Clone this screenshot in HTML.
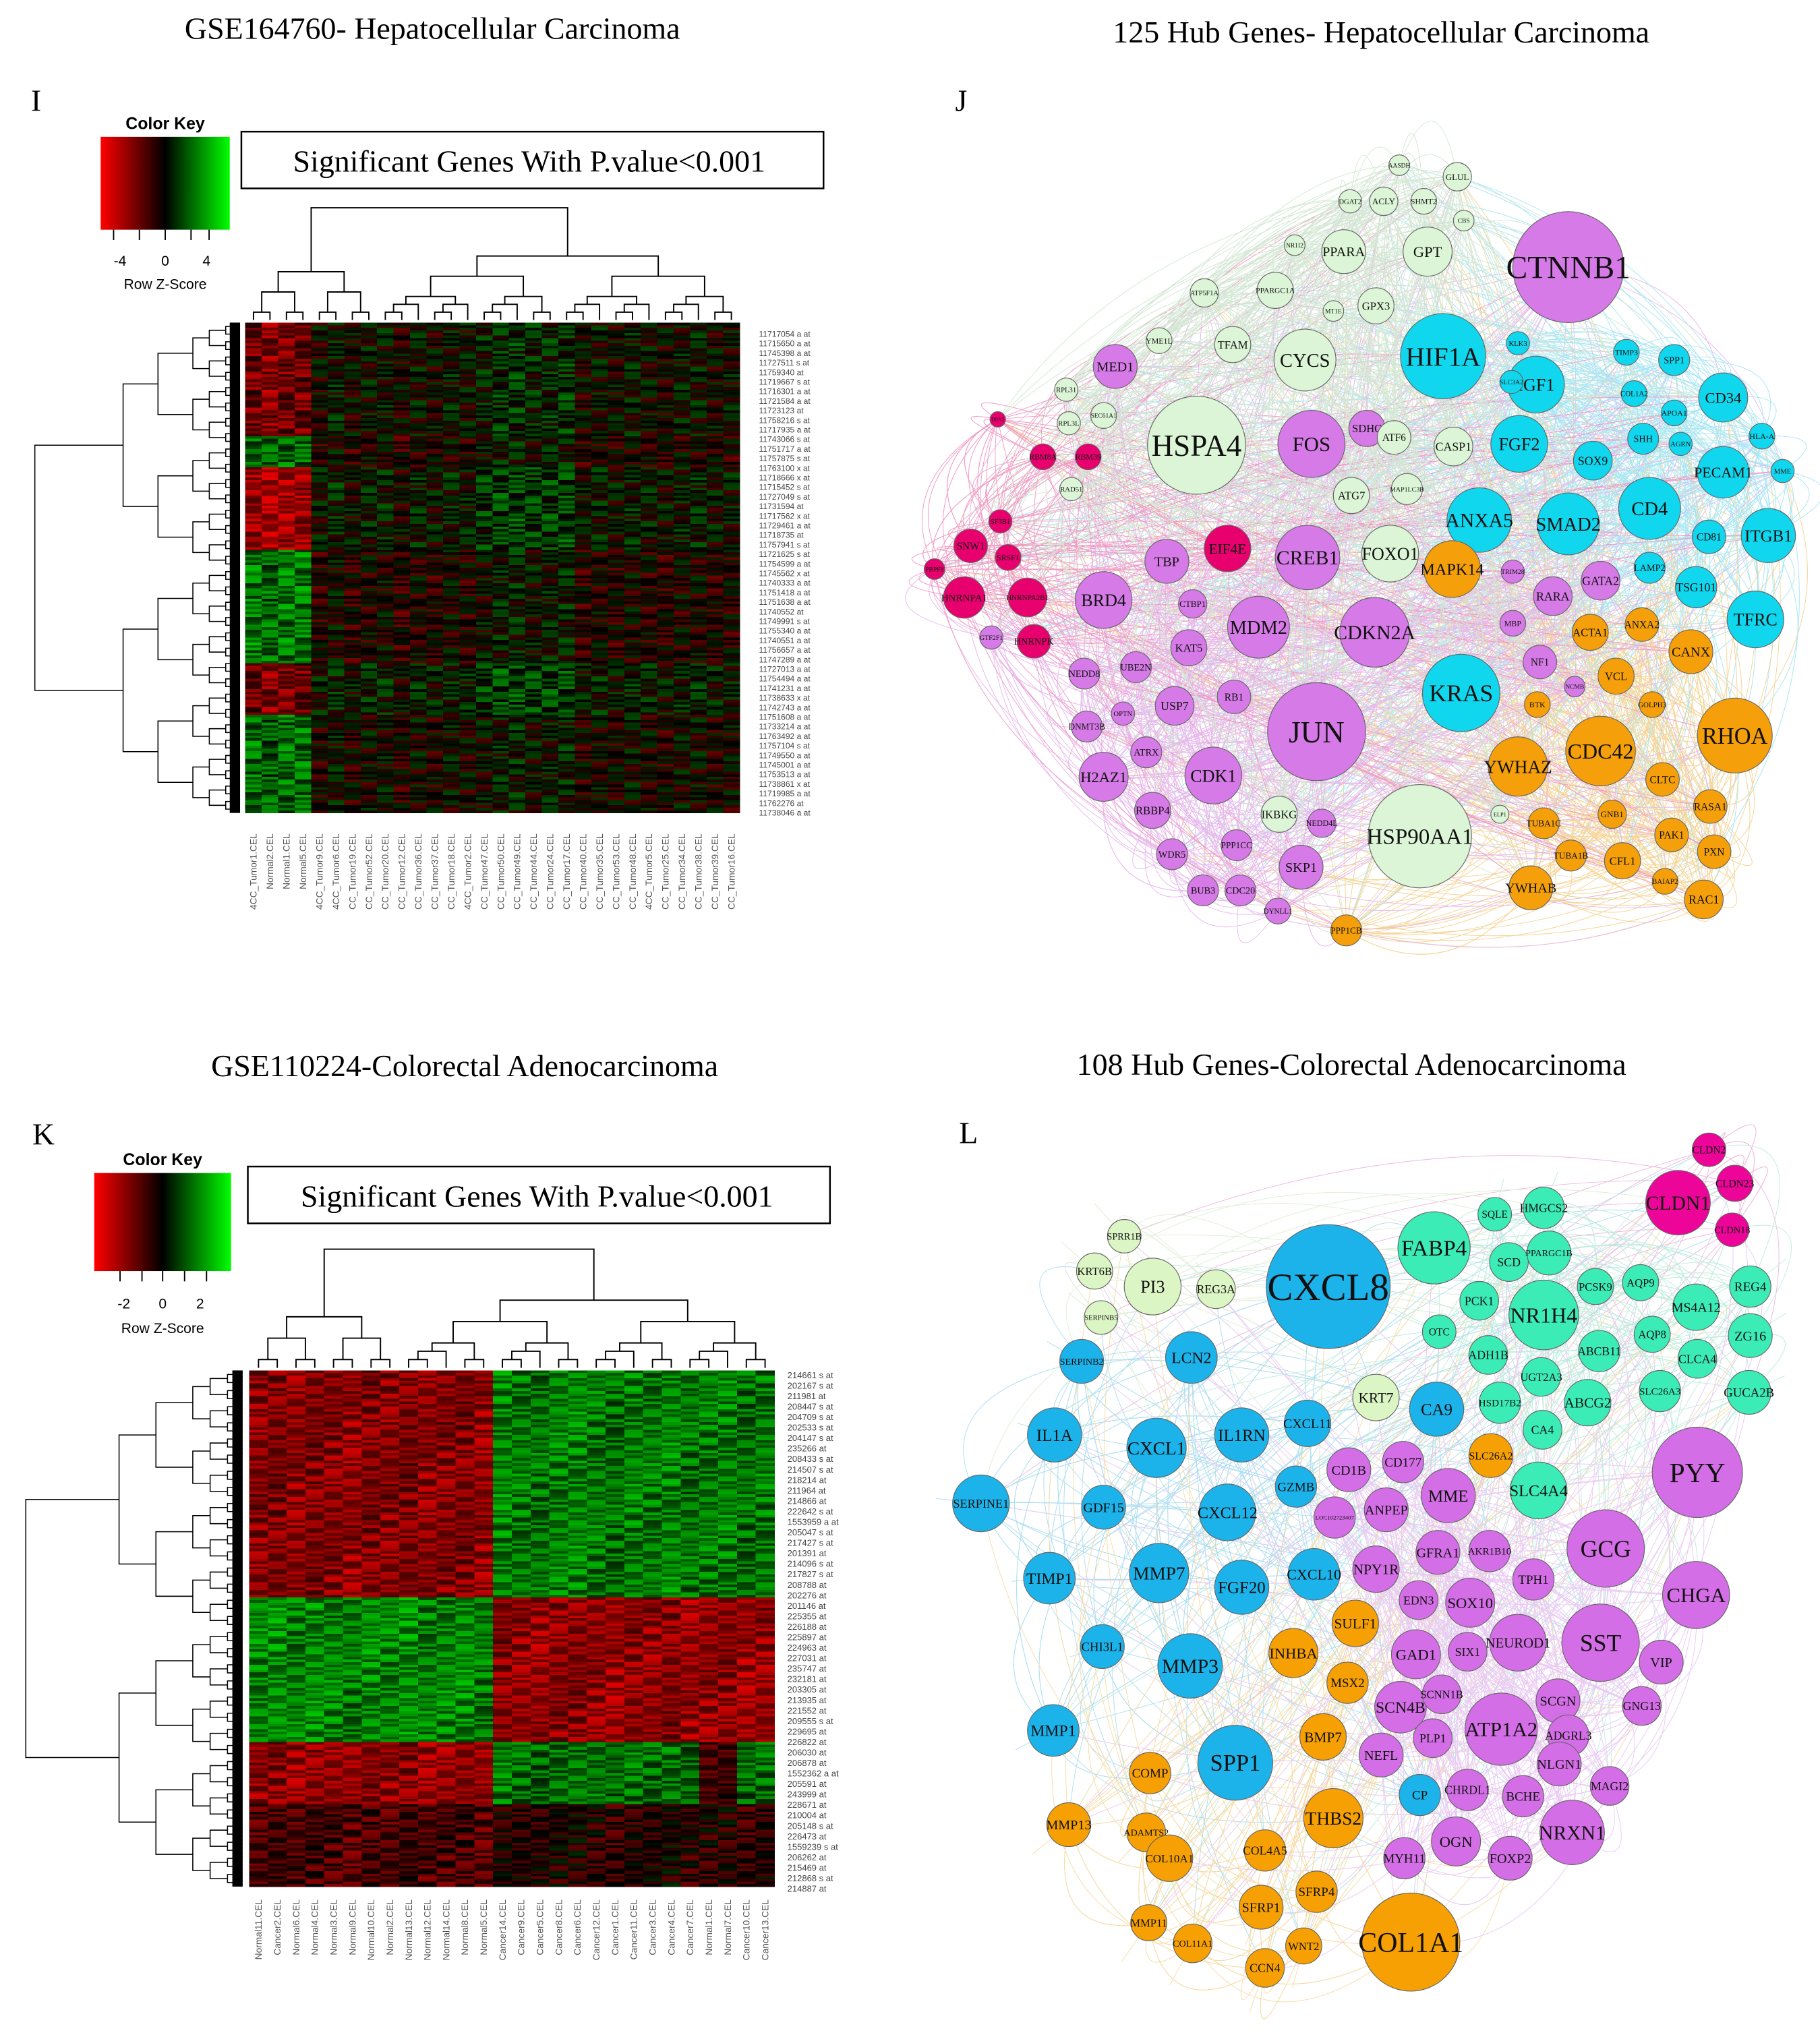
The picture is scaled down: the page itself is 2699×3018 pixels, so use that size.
<!DOCTYPE html>
<html><head><meta charset="utf-8">
<style>
html,body{margin:0;padding:0;background:#fff;}
svg{display:block;}
text{font-family:"Liberation Serif",serif;}
.sans{font-family:"Liberation Sans",sans-serif;}
</style></head>
<body>
<svg id="fig" xmlns="http://www.w3.org/2000/svg" width="2699" height="3018" viewBox="0 0 1410 1577" preserveAspectRatio="none">
<defs>
<linearGradient id="ck" x1="0" x2="1" y1="0" y2="0">
<stop offset="0" stop-color="#ff0000"/><stop offset="0.5" stop-color="#000"/><stop offset="1" stop-color="#00ff00"/>
</linearGradient>
</defs>
<rect x="0" y="0" width="1410" height="1577" fill="#fff"/>
<text x="335" y="30" font-size="24" text-anchor="middle">GSE164760- Hepatocellular Carcinoma</text>
<text x="1070" y="33" font-size="24" text-anchor="middle">125 Hub Genes- Hepatocellular Carcinoma</text>
<text x="360" y="834" font-size="24" text-anchor="middle">GSE110224-Colorectal Adenocarcinoma</text>
<text x="1047" y="833" font-size="24" text-anchor="middle">108 Hub Genes-Colorectal Adenocarcinoma</text>
<text x="24" y="86" font-size="24">I</text>
<text x="740" y="86" font-size="24">J</text>
<text x="25" y="887" font-size="24">K</text>
<text x="743" y="886" font-size="24">L</text>

<g>
<text class="sans" x="128" y="100" font-size="13" font-weight="bold" text-anchor="middle">Color Key</text>
<rect x="78" y="106" width="100" height="72" fill="url(#ck)"/>
<line x1="88" y1="178" x2="88" y2="186" stroke="#000"/><line x1="108" y1="178" x2="108" y2="186" stroke="#000"/><line x1="128" y1="178" x2="128" y2="186" stroke="#000"/><line x1="148" y1="178" x2="148" y2="186" stroke="#000"/><line x1="162" y1="178" x2="162" y2="186" stroke="#000"/>
<text class="sans" x="93" y="206" font-size="11" text-anchor="middle">-4</text>
<text class="sans" x="128" y="206" font-size="11" text-anchor="middle">0</text>
<text class="sans" x="160" y="206" font-size="11" text-anchor="middle">4</text>
<text class="sans" x="128" y="224" font-size="11" text-anchor="middle">Row Z-Score</text>
</g>
<g>
<rect x="187" y="102" width="451" height="44" fill="#fff" stroke="#000" stroke-width="1.3"/>
<text x="410" y="133" font-size="24" text-anchor="middle">Significant Genes With P.value&lt;0.001</text>
</g>
<g>
<text class="sans" x="126" y="903" font-size="13" font-weight="bold" text-anchor="middle">Color Key</text>
<rect x="73" y="909" width="106" height="76" fill="url(#ck)"/>
<line x1="93" y1="985" x2="93" y2="993" stroke="#000"/><line x1="110" y1="985" x2="110" y2="993" stroke="#000"/><line x1="126" y1="985" x2="126" y2="993" stroke="#000"/><line x1="143" y1="985" x2="143" y2="993" stroke="#000"/><line x1="160" y1="985" x2="160" y2="993" stroke="#000"/>
<text class="sans" x="96" y="1014" font-size="11" text-anchor="middle">-2</text>
<text class="sans" x="126" y="1014" font-size="11" text-anchor="middle">0</text>
<text class="sans" x="155" y="1014" font-size="11" text-anchor="middle">2</text>
<text class="sans" x="126" y="1033" font-size="11" text-anchor="middle">Row Z-Score</text>
</g>
<g>
<rect x="192" y="904" width="451" height="44" fill="#fff" stroke="#000" stroke-width="1.3"/>
<text x="416" y="935" font-size="24" text-anchor="middle">Significant Genes With P.value&lt;0.001</text>
</g>
<g id="layer"></g>
</svg>
<script>
// ===== Heatmap I data =====
const hiCols = ["4CC_Tumor1.CEL","Normal2.CEL","Normal1.CEL","Normal5.CEL","4CC_Tumor9.CEL","4CC_Tumor6.CEL","CC_Tumor19.CEL","CC_Tumor52.CEL","CC_Tumor20.CEL","CC_Tumor12.CEL","CC_Tumor36.CEL","CC_Tumor37.CEL","CC_Tumor18.CEL","4CC_Tumor2.CEL","CC_Tumor47.CEL","CC_Tumor50.CEL","CC_Tumor49.CEL","CC_Tumor44.CEL","CC_Tumor24.CEL","CC_Tumor17.CEL","CC_Tumor40.CEL","CC_Tumor35.CEL","CC_Tumor53.CEL","CC_Tumor48.CEL","4CC_Tumor5.CEL","CC_Tumor25.CEL","CC_Tumor34.CEL","CC_Tumor38.CEL","CC_Tumor39.CEL","CC_Tumor16.CEL"];
const hiRowLabels = ["11717054 a at","11715650 a at","11745398 a at","11727511 s at","11759340 at","11719667 s at","11716301 a at","11721584 a at","11723123 at","11758216 s at","11717935 a at","11743066 s at","11751717 a at","11757875 s at","11763100 x at","11718666 x at","11715452 s at","11727049 s at","11731594 at","11717562 x at","11729461 a at","11718735 at","11757941 s at","11721625 s at","11754599 a at","11745562 x at","11740333 a at","11751418 a at","11751638 a at","11740552 at","11749991 s at","11755340 a at","11740551 a at","11756657 a at","11747289 a at","11727013 a at","11754494 a at","11741231 a at","11738633 x at","11742743 a at","11751608 a at","11733214 a at","11763492 a at","11757104 s at","11749550 a at","11745001 a at","11753513 a at","11738861 x at","11719985 a at","11762276 at","11738046 a at"];
const hiBlockRows   = [44, 12, 32, 44, 20, 38];
const hiBlockNormal = [-0.5, 0.45, -0.7, 0.5, -0.5, 0.45];
const hiBlockTumor  = [0.0, -0.1, 0.05, -0.1, 0.08, -0.05];
const hiBlockMid    = [0.15, -0.15, 0.2, -0.15, 0.2, -0.1];
const hiStripe = [0.35,-0.3,0.1,-0.45,0.25,0.4,-0.2,0.05,-0.35,0.3,-0.1,0.2,-0.4,0.15,-0.25,0.3,-0.05];
const hiColShift = [0.05,-0.05,0.03,0.05,-0.03,0.08,-0.05,0.03,0.05,-0.08,0.03,-0.03,0.05,0,-0.05,0.03,0.05,-0.03,0,0.05,-0.05,0.03,-0.03,0.05,0,-0.05,0.03,0.05,-0.03,0];

// ===== Heatmap K data =====
const hkCols = ["Normal11.CEL","Cancer2.CEL","Normal6.CEL","Normal4.CEL","Normal3.CEL","Normal9.CEL","Normal10.CEL","Normal2.CEL","Normal13.CEL","Normal12.CEL","Normal14.CEL","Normal8.CEL","Normal5.CEL","Cancer14.CEL","Cancer9.CEL","Cancer5.CEL","Cancer8.CEL","Cancer6.CEL","Cancer12.CEL","Cancer1.CEL","Cancer11.CEL","Cancer3.CEL","Cancer4.CEL","Cancer7.CEL","Normal1.CEL","Normal7.CEL","Cancer10.CEL","Cancer13.CEL"];
const hkRowLabels = ["214661 s at","202167 s at","211981 at","208447 s at","204709 s at","202533 s at","204147 s at","235266 at","208433 s at","214507 s at","218214 at","211964 at","214866 at","222642 s at","1553959 a at","205047 s at","217427 s at","201391 at","214096 s at","217827 s at","208788 at","202276 at","201146 at","225355 at","226188 at","225897 at","224963 at","227031 at","235747 at","232181 at","203305 at","213935 at","221552 at","209555 s at","229695 at","226822 at","206030 at","206878 at","1552362 a at","205591 at","243999 at","228671 at","210004 at","205148 s at","226473 at","1559239 s at","206262 at","215469 at","212868 s at","214887 at"];
const hkBlockRows   = [88, 56, 24, 32];
const hkBlockNormal = [-0.55, 0.55, -0.6, -0.3];
const hkBlockTumor  = [0.5, -0.6, 0.45, -0.15];
const hkStripe = [0.3,-0.25,0.15,-0.35,0.2,0.35,-0.15,0.05,-0.3,0.25,-0.1,0.2,-0.2];
const hkColShift = [0,0.05,-0.03,0.03,0,-0.05,0.03,0,0.05,-0.03,0,0.03,-0.05,0.05,0,-0.03,0.03,0.05,0,-0.05,0.03,0,0.05,-0.03,0,0.03,-0.05,0];

// ===== Network J data =====
const jNames = ["CTNNB1","HIF1A","HSPA4","JUN","HSP90AA1","KRAS","CDKN2A","MDM2","CREB1","FOS","CYCS","FOXO1","ANXA5","SMAD2","CD4","FGF2","IGF1","CD34","PECAM1","ITGB1","TFRC","RHOA","CDC42","YWHAZ","MAPK14","CANX","VCL","ACTA1","ANXA2","CLTC","RASA1","PXN","PAK1","RAC1","CFL1","YWHAB","TUBA1C","TUBA1B","GNB1","BAIAP2","PPP1CB","BTK","GOLPH3","TSG101","CD81","LAMP2","SHH","SOX9","SPP1","TIMP3","COL1A2","APOA1","HLA-A","MME","AGRN","KLK3","SLC3A2","GATA2","RARA","NF1","MBP","TRIM28","NCMB","BRD4","TBP","MED1","SDHC","KAT5","CTBP1","USP7","RB1","UBE2N","NEDD8","DNMT3B","OPTN","ATRX","H2AZ1","CDK1","RBBP4","WDR5","PPP1CC","BUB3","CDC20","DYNLL1","SKP1","NEDD4L","IKBKG","ELP1","EIF4E","SNW1","HNRNPA1","HNRNPA2B1","HNRNPK","SRSF1","SF3B1","PRPF8","RBM8A","RBM39","DDX5","GTF2F1","ATG7","MAP1LC3B","ATF6","CASP1","GPX3","GPT","PPARA","PPARGC1A","TFAM","ATP5F1A","YME1L","RPL31","RPL3L","SEC61A1","RAD51","MT1E","NR1I2","DGAT2","ACLY","SHMT2","AASDH","GLUL","CBS"];
const jX = [1215,1118,927,1020,1100,1132,1065,975,1013,1016,1011,1077,1146,1215,1278,1177,1190,1335,1335,1370,1360,1344,1240,1176,1125,1310,1252,1232,1272,1288,1325,1328,1295,1320,1257,1186,1196,1217,1249,1290,1043,1191,1280,1314,1324,1278,1273,1234,1297,1260,1266,1297,1365,1381,1302,1176,1171,1240,1203,1193,1172,1172,1220,855,904,864,1059,921,924,910,956,880,840,842,870,888,855,940,893,908,958,932,961,990,1008,1024,991,1162,951,752,747,796,801,781,775,724,808,843,773,768,1047,1090,1080,1126,1066,1106,1041,988,955,933,898,826,828,855,830,1033,1003,1046,1072,1103,1084,1129,1134];
const jY = [207,276,345,567,648,537,490,486,432,344,279,429,403,406,394,344,298,308,366,415,480,570,582,594,441,505,524,490,484,604,625,660,647,697,667,688,638,663,631,683,721,546,546,455,416,440,340,357,279,273,305,320,338,365,344,266,296,450,462,513,483,443,532,465,435,284,332,502,468,547,540,517,522,563,553,583,602,601,628,662,655,690,690,706,672,638,631,631,425,423,463,463,497,432,404,441,354,354,325,494,384,379,339,346,237,195,195,225,267,227,264,302,328,322,379,241,190,156,156,156,128,137,171];
const jSize = [43,33,38,38,40,30,27,24,25,26,24,22,25,24,24,22,22,19,20,21,22,29,27,23,22,17,14,14,13,13,13,13,13,15,14,17,12,12,11,10,12,10,10,16,13,12,12,15,12,10,10,10,10,9,9,9,9,15,15,13,10,9,8,22,17,17,14,14,11,15,13,12,12,12,9,12,19,22,14,12,12,12,12,10,17,11,14,7,18,13,16,15,13,10,9,8,10,10,6,9,14,12,13,15,14,19,17,14,14,11,10,9,9,10,9,8,8,9,11,10,8,11,8];
const jGroup = "VCGVGCVVVVGGCCCCCCCCC" + "O".repeat(22) + "C".repeat(14) + "V".repeat(29) + "GG" + "P".repeat(11) + "V" + "G".repeat(23);

// ===== Network L data =====
const lNames = ["CXCL8","FABP4","CLDN1","CLDN2","CLDN23","CLDN18","HMGCS2","SQLE","SCD","PPARGC1B","PCK1","NR1H4","PCSK9","AQP9","REG4","MS4A12","ZG16","AQP8","OTC","ADH1B","ABCB11","CLCA4","GUCA2B","SLC26A3","UGT2A3","HSD17B2","ABCG2","CA4","SLC4A4","SPRR1B","KRT6B","PI3","REG3A","SERPINB5","KRT7","SERPINB2","LCN2","IL1A","CXCL1","IL1RN","CXCL11","CA9","SERPINE1","GDF15","GZMB","CXCL12","TIMP1","MMP7","FGF20","CXCL10","CHI3L1","MMP3","MMP1","SPP1","CP","SLC26A2","SULF1","INHBA","MSX2","BMP7","COMP","THBS2","MMP13","ADAMTS2","COL10A1","COL4A5","SFRP4","SFRP1","MMP11","COL11A1","WNT2","CCN4","COL1A1","PYY","GCG","CHGA","SST","VIP","NEUROD1","GAD1","SIX1","SOX10","EDN3","TPH1","AKR1B10","GFRA1","NPY1R","MME","CD1B","CD177","ANPEP","LOC102723407","SCN4B","SCNN1B","ATP1A2","SCGN","GNG13","ADGRL3","NEFL","PLP1","NLGN1","MAGI2","CHRDL1","BCHE","NRXN1","OGN","FOXP2","MYH11"];
const lX = [1029,1111,1300,1324,1344,1342,1196,1158,1169,1200,1146,1196,1236,1271,1356,1314,1356,1280,1115,1153,1239,1315,1355,1286,1194,1162,1230,1195,1192,871,848,893,942,853,1066,838,923,817,896,962,1013,1113,760,855,1004,951,813,898,962,1018,854,922,816,957,1100,1155,1050,1002,1044,1025,891,1033,828,888,906,980,1020,977,890,924,1010,980,1093,1315,1244,1314,1240,1287,1176,1097,1137,1139,1099,1188,1154,1114,1066,1122,1045,1087,1074,1034,1085,1117,1163,1207,1272,1215,1070,1110,1208,1247,1137,1180,1218,1128,1170,1088];
const lY = [997,967,932,891,917,953,936,941,978,971,1008,1019,997,994,997,1013,1035,1034,1032,1050,1047,1053,1079,1078,1067,1087,1087,1108,1155,958,985,997,999,1021,1083,1055,1052,1112,1122,1112,1103,1092,1165,1168,1152,1172,1223,1219,1230,1220,1276,1291,1341,1366,1391,1128,1258,1281,1304,1346,1374,1409,1414,1420,1440,1434,1466,1478,1490,1506,1508,1525,1505,1141,1200,1236,1273,1288,1273,1282,1280,1242,1240,1224,1202,1203,1216,1159,1139,1133,1170,1176,1323,1313,1340,1318,1322,1345,1360,1347,1367,1384,1387,1392,1420,1427,1440,1440];
const lSize = [48,28,25,13,14,13,16,13,15,17,15,27,14,14,16,18,17,14,13,15,16,15,17,16,15,16,18,15,22,13,14,22,15,13,18,17,20,21,23,21,18,21,22,17,16,22,20,23,21,20,17,25,20,29,16,17,18,19,16,18,16,23,17,15,18,16,16,17,14,15,14,15,38,35,30,26,30,17,22,19,15,19,15,16,16,17,18,21,17,16,17,16,20,15,28,17,15,16,17,15,17,15,16,16,25,19,17,16];
const lGroup = "BAMMMM" + "A".repeat(23) + "G".repeat(6) + "B".repeat(20) + "O".repeat(18) + "V".repeat(35);

const NS = "http://www.w3.org/2000/svg";
const layer = document.getElementById('layer');
function mk(tag, attrs, parent){ const e = document.createElementNS(NS, tag); for (const k in attrs) e.setAttribute(k, attrs[k]); (parent||layer).appendChild(e); return e; }

function zcolor(v, scale){
  v = Math.max(-1, Math.min(1, v));
  if (v < 0) return 'rgb(' + Math.round(-v*scale) + ',0,0)';
  return 'rgb(0,' + Math.round(v*scale*0.95) + ',0)';
}

function drawHeatmap(name, x0, y0, w, h, cols, blockRows, fnVal, stripe, colShift, scale){
  const g = mk('g', {'shape-rendering':'crispEdges'});
  
  
  const nRows = blockRows.reduce((a,b)=>a+b,0);
  const cw = w/cols.length, rh = h/nRows;
  let r = 0;
  blockRows.forEach((n, b) => {
    for (let i = 0; i < n; i++, r++) {
      for (let c = 0; c < cols.length; c++) {
        const v = fnVal(b, c) + stripe[(r*5 + c*3 + (r>>2)) % stripe.length] * 0.8 + colShift[c];
        const cell = mk('rect', {x:(x0+c*cw).toFixed(2), y:(y0+r*rh).toFixed(2), width:(cw+0.3).toFixed(2), height:(rh+0.3).toFixed(2), fill:zcolor(v, scale)}, g);
        
        
      }
    }
  });
}

drawHeatmap('heatmap-i', 190, 250, 383, 380, hiCols, hiBlockRows, (b,c)=> c<4 ? hiBlockNormal[b] : (c>=14&&c<=19 ? hiBlockMid[b]*Math.sign(-hiBlockNormal[b]) + hiBlockTumor[b] : hiBlockTumor[b]), hiStripe, hiColShift, 230);
drawHeatmap('heatmap-k', 193, 1062, 407, 400, hkCols, hkBlockRows, (b,c)=> (c<13 ? hkBlockNormal[b] : (c>=24&&c<=25 && b>=2 ? hkBlockNormal[b]*0.5 : hkBlockTumor[b])), hkStripe, hkColShift, 240);

function rowLabels(name, list, x, y0, y1, fs){
  const g = mk('g', {});
  
  
  list.forEach((t,i)=>{
    const e = mk('text', {x:x, y:(y0 + i*(y1-y0)/(list.length-1)).toFixed(2), 'font-size':fs, fill:'#444', class:'sans'}, g);
    e.textContent = t;
    
    
  });
}
function colLabels(name, list, x0, w, ytop, fs){
  const g = mk('g', {});
  
  
  const cw = w/list.length;
  list.forEach((t,i)=>{
    const x = x0 + (i+0.5)*cw + fs*0.35;
    const e = mk('text', {x:x.toFixed(2), y:ytop, 'font-size':fs, fill:'#555', class:'sans', 'text-anchor':'end', transform:'rotate(-90 '+x.toFixed(2)+' '+ytop+')'}, g);
    e.textContent = t;
    
    
  });
}
rowLabels('row-labels-i', hiRowLabels, 588, 261, 632, 6.3);
colLabels('column-labels-i', hiCols, 190, 383, 646, 7.2);
rowLabels('row-labels-k', hkRowLabels, 610, 1068, 1466, 6.8);
colLabels('column-labels-k', hkCols, 193, 407, 1472, 7.2);

function colDendro(name, x0, w, n, yBottom, yTop){
  const g = mk('g', {});
  
  
  const cw = w/n;
  function rec(lo, hi, depth){
    if (hi - lo === 1) return [x0 + (lo+0.5)*cw, yBottom];
    const mid = lo + Math.max(1, Math.round((hi-lo) * (depth===0 ? 0.28 : 0.5)));
    const a = rec(lo, mid, depth+1), b = rec(mid, hi, depth+1);
    const y = depth===0 ? yTop : Math.min(a[1], b[1]) - (yBottom-yTop) * (depth<3 ? 0.18 : 0.07);
    const p = mk('path', {d:`M${a[0]},${a[1]}V${y}H${b[0]}V${b[1]}`, fill:'none', stroke:'#000', 'stroke-width':1}, g);
    
    
    return [(a[0]+b[0])/2, y];
  }
  rec(0, n, 0);
}
function rowDendro(name, y0, h, n, xRight, xLeft){
  const g = mk('g', {});
  
  
  const rh = h/n;
  function rec(lo, hi, depth){
    if (hi - lo === 1) return [xRight, y0 + (lo+0.5)*rh];
    const mid = lo + Math.max(1, Math.round((hi-lo)*0.5));
    const a = rec(lo, mid, depth+1), b = rec(mid, hi, depth+1);
    const x = depth===0 ? xLeft : Math.min(a[0], b[0]) - (xRight-xLeft) * (depth<3 ? 0.17 : (depth<5 ? 0.08 : 0.035));
    const p = mk('path', {d:`M${a[0]},${a[1]}H${x}V${b[1]}H${b[0]}`, fill:'none', stroke:'#000', 'stroke-width':0.8}, g);
    
    
    return [x, (a[1]+b[1])/2];
  }
  rec(0, n, 0);
  const blk = mk('rect', {x:xRight-8, y:y0, width:8, height:h, fill:'#000'}, g);
  
  
}
colDendro('column-dendrogram-i', 190, 383, hiCols.length, 248, 161);
rowDendro('row-dendrogram-i', 250, 380, 128, 186, 27);
colDendro('column-dendrogram-k', 193, 407, hkCols.length, 1060, 968);
rowDendro('row-dendrogram-k', 1062, 400, 128, 188, 20);

const palJ = {V:'#d57ae6', C:'#10d6ee', G:'#dcf5d6', O:'#f5a00a', P:'#e8006e'};
const edgeJ = {V:'#d88ae0', C:'#6fd6ee', G:'#b8d8b8', O:'#f0b850', P:'#e85a9a'};
const palL = {B:'#1cb2ea', A:'#3cecb6', M:'#ec0598', G:'#dcf5c4', O:'#f6a004', V:'#d46ee6'};
const edgeL = {B:'#6cc4e4', A:'#8ee0c4', M:'#e080c0', G:'#c8e0b8', O:'#f0c060', V:'#d8a0e8'};
function drawNetwork(name, names, xs, ys, rs, groups, pal, epal, nSame, crossSteps, op, bend){
  const g = mk('g', {});
  
  
  const eg = mk('g', {fill:'none', 'stroke-width':0.5, opacity:op}, g);
  
  
  const N = names.length;
  let cx = 0, cy = 0; xs.forEach(v=>cx+=v); ys.forEach(v=>cy+=v); cx/=N; cy/=N;
  const members = {};
  for (let i = 0; i < N; i++) (members[groups[i]] = members[groups[i]] || []).push(i);
  function edge(i, j, b){
    const mx = (xs[i]+xs[j])/2, my = (ys[i]+ys[j])/2;
    const qx = mx + (mx-cx)*b, qy = my + (my-cy)*b;
    const e = mk('path', {d:`M${xs[i]},${ys[i]}Q${qx.toFixed(1)},${qy.toFixed(1)} ${xs[j]},${ys[j]}`, stroke:epal[groups[i]]}, eg);
    
    
  }
  for (let i = 0; i < N; i++) {
    const m = members[groups[i]], k = m.indexOf(i);
    for (let s = 1; s <= nSame && s < m.length; s++) edge(i, m[(k + s*3) % m.length], bend*0.7);
    crossSteps.forEach(s => { const j = (i*7 + s) % N; if (j !== i) edge(i, j, bend); });
  }
  for (let i = 0; i < N; i++) {
    const c = mk('circle', {cx:xs[i], cy:ys[i], r:rs[i], fill:pal[groups[i]], stroke:'#666', 'stroke-width':0.6}, g);
    
    
    const len = names[i].length;
    const fs = Math.min(rs[i]*0.62, Math.max(4, 1.9*rs[i]/(len*0.55)));
    const t = mk('text', {x:xs[i], y:(ys[i]+fs*0.35).toFixed(2), 'font-size':fs.toFixed(2), 'text-anchor':'middle', fill:'#111'}, g);
    t.textContent = names[i];
    
    
  }
}
drawNetwork('network-j', jNames, jX, jY, jSize, jGroup, palJ, edgeJ, 8, [1,3,11,17,29,41,53,67,83,97,101,113], 0.6, 0.25);
drawNetwork('network-l', lNames, lX, lY, lSize, lGroup, palL, edgeL, 8, [1,5,13,21,34], 0.55, 0.3);
</script>
</body></html>
